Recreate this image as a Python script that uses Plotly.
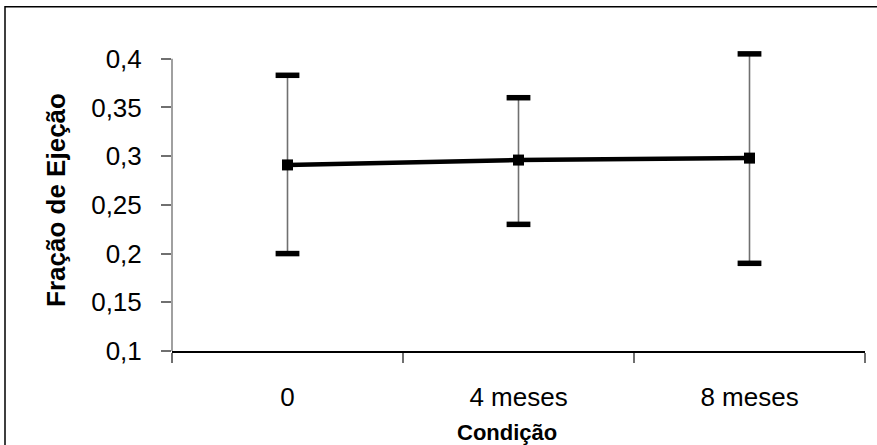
import plotly.graph_objects as go

categories = ["0", "4 meses", "8 meses"]
means = [0.291, 0.296, 0.298]
err_plus = [0.092, 0.064, 0.107]
err_minus = [0.091, 0.066, 0.108]
y_ticks = [0.1, 0.15, 0.2, 0.25, 0.3, 0.35, 0.4]
y_tick_text = ["0,1", "0,15", "0,2", "0,25", "0,3", "0,35", "0,4"]

FONT = "Arial, Liberation Sans, sans-serif"

upper = [m + e for m, e in zip(means, err_plus)]
lower = [m - e for m, e in zip(means, err_minus)]

Y_MIN, Y_MAX, Y_TOP = 0.1, 0.4, 0.41

fig = go.Figure()
# error stems
fig.add_trace(go.Scatter(
    x=categories, y=means, mode="markers", cliponaxis=False,
    marker=dict(size=1, color="rgba(0,0,0,0)"),
    error_y=dict(type="data", symmetric=False, array=err_plus, arrayminus=err_minus,
                 color="#707070", thickness=1.6, width=0),
    showlegend=False, hoverinfo="skip"))
# caps
fig.add_trace(go.Scatter(
    x=categories + categories, y=upper + lower, mode="markers", cliponaxis=False,
    marker=dict(symbol="line-ew", size=17, line=dict(width=5.5, color="black")),
    showlegend=False, hoverinfo="skip"))
# mean line
fig.add_trace(go.Scatter(
    x=categories, y=means, mode="lines+markers", cliponaxis=False,
    line=dict(color="black", width=4.5),
    marker=dict(symbol="square", size=11, color="black"),
    showlegend=False))

fig.update_layout(
    width=877, height=445,
    margin=dict(l=172, r=12, t=49, b=94),
    paper_bgcolor="white", plot_bgcolor="white",
    separators=",.",
    font=dict(family=FONT, color="black", size=26),
    xaxis=dict(
        type="category", range=[-0.5, 2.5],
        showline=True, linecolor="black", linewidth=1.5,
        ticks="outside", tickson="boundaries", ticklen=10, tickcolor="#707070", tickwidth=1.5,
        showgrid=False, zeroline=False,
        tickfont=dict(size=26, family=FONT), ticklabelstandoff=22,
    ),
    yaxis=dict(
        range=[Y_MIN, Y_TOP], tickmode="array", tickvals=y_ticks, ticktext=y_tick_text,
        showline=False,
        ticks="outside", ticklen=10, tickcolor="#707070", tickwidth=1.5,
        showgrid=False, zeroline=False,
        tickfont=dict(size=26, family=FONT), ticklabelstandoff=14,
        title=dict(text="<b>Fração de Ejeção</b>", font=dict(size=26, family=FONT), standoff=18),
    ),
    annotations=[dict(
        text="<b>Condição</b>", xref="paper", yref="paper",
        x=0.483, y=-0.27, xanchor="center", yanchor="middle",
        showarrow=False, font=dict(size=22, family=FONT))],
    shapes=[
        dict(type="rect", xref="paper", yref="paper",
             x0=(5 - 172) / 693, x1=(900 - 172) / 693,
             y0=-0.45, y1=1.14,
             line=dict(color="black", width=1.5), layer="below"),
        dict(type="line", xref="paper", yref="y",
             x0=0, x1=0, y0=Y_MIN, y1=Y_MAX,
             line=dict(color="#808080", width=1.5), layer="below"),
    ],
)

fig.write_html("out.html")
